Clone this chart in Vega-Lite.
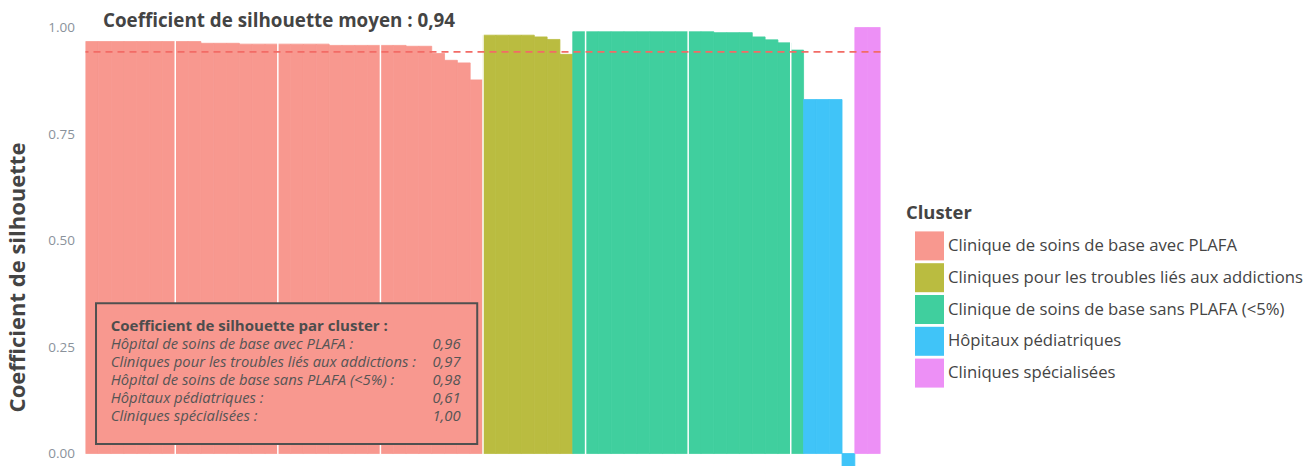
{
  "$schema": "https://vega.github.io/schema/vega-lite/v6.json",
  "width": 795,
  "height": 466,
  "autosize": {"type": "none"},
  "padding": {"left": 85.5, "top": 0, "right": 427.5, "bottom": 0},
  "background": "#ffffff",
  "config": {"font": "Open Sans", "view": {"stroke": null}},
  "datasets": {
    "sil": [
      {"obs": 1, "cluster": "Clinique de soins de base avec PLAFA", "sil": 0.967},
      {"obs": 2, "cluster": "Clinique de soins de base avec PLAFA", "sil": 0.967},
      {"obs": 3, "cluster": "Clinique de soins de base avec PLAFA", "sil": 0.967},
      {"obs": 4, "cluster": "Clinique de soins de base avec PLAFA", "sil": 0.967},
      {"obs": 5, "cluster": "Clinique de soins de base avec PLAFA", "sil": 0.967},
      {"obs": 6, "cluster": "Clinique de soins de base avec PLAFA", "sil": 0.967},
      {"obs": 7, "cluster": "Clinique de soins de base avec PLAFA", "sil": 0.967},
      {"obs": 8, "cluster": "Clinique de soins de base avec PLAFA", "sil": 0.967},
      {"obs": 9, "cluster": "Clinique de soins de base avec PLAFA", "sil": 0.967},
      {"obs": 10, "cluster": "Clinique de soins de base avec PLAFA", "sil": 0.963},
      {"obs": 11, "cluster": "Clinique de soins de base avec PLAFA", "sil": 0.963},
      {"obs": 12, "cluster": "Clinique de soins de base avec PLAFA", "sil": 0.963},
      {"obs": 13, "cluster": "Clinique de soins de base avec PLAFA", "sil": 0.961},
      {"obs": 14, "cluster": "Clinique de soins de base avec PLAFA", "sil": 0.961},
      {"obs": 15, "cluster": "Clinique de soins de base avec PLAFA", "sil": 0.961},
      {"obs": 16, "cluster": "Clinique de soins de base avec PLAFA", "sil": 0.961},
      {"obs": 17, "cluster": "Clinique de soins de base avec PLAFA", "sil": 0.961},
      {"obs": 18, "cluster": "Clinique de soins de base avec PLAFA", "sil": 0.961},
      {"obs": 19, "cluster": "Clinique de soins de base avec PLAFA", "sil": 0.961},
      {"obs": 20, "cluster": "Clinique de soins de base avec PLAFA", "sil": 0.958},
      {"obs": 21, "cluster": "Clinique de soins de base avec PLAFA", "sil": 0.958},
      {"obs": 22, "cluster": "Clinique de soins de base avec PLAFA", "sil": 0.958},
      {"obs": 23, "cluster": "Clinique de soins de base avec PLAFA", "sil": 0.958},
      {"obs": 24, "cluster": "Clinique de soins de base avec PLAFA", "sil": 0.958},
      {"obs": 25, "cluster": "Clinique de soins de base avec PLAFA", "sil": 0.958},
      {"obs": 26, "cluster": "Clinique de soins de base avec PLAFA", "sil": 0.956},
      {"obs": 27, "cluster": "Clinique de soins de base avec PLAFA", "sil": 0.956},
      {"obs": 28, "cluster": "Clinique de soins de base avec PLAFA", "sil": 0.939},
      {"obs": 29, "cluster": "Clinique de soins de base avec PLAFA", "sil": 0.923},
      {"obs": 30, "cluster": "Clinique de soins de base avec PLAFA", "sil": 0.917},
      {"obs": 31, "cluster": "Clinique de soins de base avec PLAFA", "sil": 0.877},
      {"obs": 32, "cluster": "Cliniques pour les troubles liés aux addictions", "sil": 0.982},
      {"obs": 33, "cluster": "Cliniques pour les troubles liés aux addictions", "sil": 0.982},
      {"obs": 34, "cluster": "Cliniques pour les troubles liés aux addictions", "sil": 0.982},
      {"obs": 35, "cluster": "Cliniques pour les troubles liés aux addictions", "sil": 0.982},
      {"obs": 36, "cluster": "Cliniques pour les troubles liés aux addictions", "sil": 0.978},
      {"obs": 37, "cluster": "Cliniques pour les troubles liés aux addictions", "sil": 0.972},
      {"obs": 38, "cluster": "Cliniques pour les troubles liés aux addictions", "sil": 0.937},
      {"obs": 39, "cluster": "Clinique de soins de base sans PLAFA (<5%)", "sil": 0.990},
      {"obs": 40, "cluster": "Clinique de soins de base sans PLAFA (<5%)", "sil": 0.990},
      {"obs": 41, "cluster": "Clinique de soins de base sans PLAFA (<5%)", "sil": 0.990},
      {"obs": 42, "cluster": "Clinique de soins de base sans PLAFA (<5%)", "sil": 0.990},
      {"obs": 43, "cluster": "Clinique de soins de base sans PLAFA (<5%)", "sil": 0.990},
      {"obs": 44, "cluster": "Clinique de soins de base sans PLAFA (<5%)", "sil": 0.990},
      {"obs": 45, "cluster": "Clinique de soins de base sans PLAFA (<5%)", "sil": 0.990},
      {"obs": 46, "cluster": "Clinique de soins de base sans PLAFA (<5%)", "sil": 0.990},
      {"obs": 47, "cluster": "Clinique de soins de base sans PLAFA (<5%)", "sil": 0.990},
      {"obs": 48, "cluster": "Clinique de soins de base sans PLAFA (<5%)", "sil": 0.990},
      {"obs": 49, "cluster": "Clinique de soins de base sans PLAFA (<5%)", "sil": 0.990},
      {"obs": 50, "cluster": "Clinique de soins de base sans PLAFA (<5%)", "sil": 0.988},
      {"obs": 51, "cluster": "Clinique de soins de base sans PLAFA (<5%)", "sil": 0.988},
      {"obs": 52, "cluster": "Clinique de soins de base sans PLAFA (<5%)", "sil": 0.988},
      {"obs": 53, "cluster": "Clinique de soins de base sans PLAFA (<5%)", "sil": 0.978},
      {"obs": 54, "cluster": "Clinique de soins de base sans PLAFA (<5%)", "sil": 0.971},
      {"obs": 55, "cluster": "Clinique de soins de base sans PLAFA (<5%)", "sil": 0.964},
      {"obs": 56, "cluster": "Clinique de soins de base sans PLAFA (<5%)", "sil": 0.947},
      {"obs": 57, "cluster": "Hôpitaux pédiatriques", "sil": 0.831},
      {"obs": 58, "cluster": "Hôpitaux pédiatriques", "sil": 0.831},
      {"obs": 59, "cluster": "Hôpitaux pédiatriques", "sil": 0.831},
      {"obs": 60, "cluster": "Hôpitaux pédiatriques", "sil": -0.05},
      {"obs": 61, "cluster": "Cliniques spécialisées", "sil": 1.0},
      {"obs": 62, "cluster": "Cliniques spécialisées", "sil": 1.0}
    ]
  },
  "layer": [
    {
      "layer": [
        {
          "data": {"name": "sil"},
          "mark": {"type": "bar", "clip": true, "strokeWidth": 0.8},
          "encoding": {
            "x": {
              "field": "obs",
              "type": "ordinal",
              "scale": {"paddingInner": 0, "paddingOuter": 0},
              "axis": null
            },
            "y": {
              "field": "sil",
              "type": "quantitative",
              "scale": {"domain": [-0.0293, 1.0646], "nice": false, "zero": false},
              "axis": {
                "title": "Coefficient de silhouette",
                "values": [0, 0.25, 0.5, 0.75, 1],
                "format": ".2f",
                "labelFontSize": 13.5,
                "labelColor": "#8a929b",
                "labelPadding": 11,
                "ticks": false,
                "domain": false,
                "grid": false,
                "titleFontSize": 22,
                "titleFontWeight": "bold",
                "titleColor": "#444444",
                "titleX": -68,
                "titleY": 277,
                "titleAngle": -90,
                "titleBaseline": "middle",
                "titleAlign": "center"
              }
            },
            "color": {
              "field": "cluster",
              "type": "nominal",
              "scale": {
                "domain": [
                  "Clinique de soins de base avec PLAFA",
                  "Cliniques pour les troubles liés aux addictions",
                  "Clinique de soins de base sans PLAFA (<5%)",
                  "Hôpitaux pédiatriques",
                  "Cliniques spécialisées"
                ],
                "range": ["#F8988F", "#BABC40", "#40CF9E", "#40C4F8", "#ED90F6"]
              },
              "legend": {
                "title": "Cluster",
                "orient": "none",
                "legendX": 820.5,
                "legendY": 203.5,
                "titleFontSize": 18.4,
                "titleFontWeight": "bold",
                "titleColor": "#444444",
                "titlePadding": 9.5,
                "symbolType": "square",
                "symbolSize": 841,
                "symbolStrokeWidth": 0,
                "symbolOpacity": 1,
                "symbolOffset": 9,
                "labelFontSize": 16.7,
                "labelColor": "#444444",
                "labelOffset": 4,
                "rowPadding": 2.8,
                "labelLimit": 450
              }
            },
            "stroke": {
              "field": "cluster",
              "type": "nominal",
              "scale": {
                "domain": [
                  "Clinique de soins de base avec PLAFA",
                  "Cliniques pour les troubles liés aux addictions",
                  "Clinique de soins de base sans PLAFA (<5%)",
                  "Hôpitaux pédiatriques",
                  "Cliniques spécialisées"
                ],
                "range": ["#F8988F", "#BABC40", "#40CF9E", "#40C4F8", "#ED90F6"]
              },
              "legend": null
            }
          }
        },
        {
          "data": {"values": [{"g": 8}, {"g": 16}, {"g": 24}, {"g": 32}, {"g": 40}, {"g": 48}, {"g": 56}]},
          "mark": {"type": "rule", "color": "#ffffff", "strokeWidth": 1.5},
          "encoding": {"x": {"field": "g", "type": "ordinal", "bandPosition": 0}}
        },
        {
          "data": {"values": [{}]},
          "mark": {"type": "rule", "strokeDash": [7, 5], "color": "#F26B66", "strokeWidth": 1.8},
          "encoding": {"y": {"datum": 0.943}}
        }
      ]
    },
    {
      "data": {"values": [{}]},
      "layer": [
        {
          "mark": {"type": "rect", "fill": "#F8988F", "fillOpacity": 1, "stroke": "#505050", "strokeWidth": 2},
          "encoding": {
            "x": {"datum": 0.82, "type": "quantitative", "scale": {"domain": [0, 62], "nice": false, "zero": false}, "axis": null},
            "x2": {"datum": 30.55},
            "y": {"datum": 0.3526, "type": "quantitative"},
            "y2": {"datum": 0.0223}
          }
        },
        {
          "mark": {"type": "text", "text": "Coefficient de silhouette par cluster :", "align": "left", "baseline": "alphabetic", "fontWeight": "bold", "fontSize": 15, "color": "#4d4d4d"},
          "encoding": {"x": {"datum": 1.965, "type": "quantitative"}, "y": {"datum": 0.2883, "type": "quantitative"}}
        },
        {
          "mark": {
            "type": "text",
            "text": [
              "Hôpital de soins de base avec PLAFA :",
              "Cliniques pour les troubles liés aux addictions :",
              "Hôpital de soins de base sans PLAFA (<5%) :",
              "Hôpitaux pédiatriques :",
              "Cliniques spécialisées :"
            ],
            "lineHeight": 18,
            "align": "left",
            "baseline": "alphabetic",
            "fontStyle": "italic",
            "fontSize": 14.8,
            "color": "#555555"
          },
          "encoding": {"x": {"datum": 1.965, "type": "quantitative"}, "y": {"datum": 0.2446, "type": "quantitative"}}
        },
        {
          "mark": {
            "type": "text",
            "text": ["0,96", "0,97", "0,98", "0,61", "1,00"],
            "lineHeight": 18,
            "align": "right",
            "baseline": "alphabetic",
            "fontStyle": "italic",
            "fontSize": 14.8,
            "color": "#555555"
          },
          "encoding": {"x": {"datum": 29.25, "type": "quantitative"}, "y": {"datum": 0.2446, "type": "quantitative"}}
        },
        {
          "mark": {"type": "text", "text": "Coefficient de silhouette moyen : 0,94", "align": "left", "baseline": "alphabetic", "fontWeight": "bold", "fontSize": 18.8, "color": "#444444"},
          "encoding": {"x": {"datum": 1.365, "type": "quantitative"}, "y": {"datum": 1.0019, "type": "quantitative"}}
        }
      ]
    }
  ],
  "resolve": {"scale": {"x": "independent"}}
}
